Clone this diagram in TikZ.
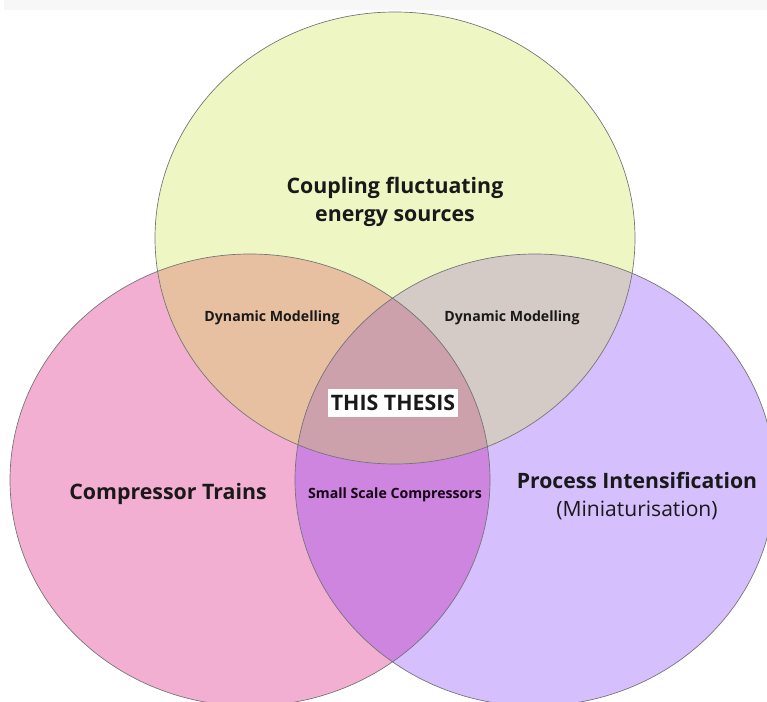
\documentclass[tikz,border=0pt]{standalone}
\usepackage{fontspec}
\setmainfont{Open Sans}
\begin{document}
\begin{tikzpicture}[x=0.75pt,y=-0.75pt,
  label/.style={font=\bfseries, text=black!90, align=center, inner sep=1pt},
  biglabel/.style={label, font=\bfseries\fontsize{16}{21.5}\selectfont},
  smalllabel/.style={label, font=\bfseries\fontsize{10.6}{13}\selectfont},
  rim/.style={draw=black!55, line width=0.5pt}]
\definecolor{cTop}{HTML}{EEF7C4}
\definecolor{cPink}{HTML}{F2AFD1}
\definecolor{cPurple}{HTML}{D5BFFD}
\definecolor{cTopPink}{HTML}{E6C0A1}
\definecolor{cTopPurple}{HTML}{D4CAC6}
\definecolor{cPinkPurple}{HTML}{CD85DF}
\definecolor{cAll}{HTML}{CCA1AC}
\definecolor{cStrip}{HTML}{F7F7F7}
\useasboundingbox (0,0) rectangle (767,702);
\fill[cStrip] (4,0) rectangle (767,10);
\def\ellTop{(395,238) ellipse [x radius=240, y radius=226]}
\def\ellPink{(250,480) ellipse [x radius=240, y radius=226]}
\def\ellPurple{(535,480) ellipse [x radius=240, y radius=226]}
\begin{scope}
  \clip (0,0) rectangle (767,702);
  % single sets
  \fill[cPink] \ellPink;
  \fill[cPurple] \ellPurple;
  \fill[cTop] \ellTop;
  % pairwise overlaps
  \begin{scope}\clip \ellTop; \fill[cTopPink] \ellPink; \end{scope}
  \begin{scope}\clip \ellTop; \fill[cTopPurple] \ellPurple; \end{scope}
  \begin{scope}\clip \ellPink; \fill[cPinkPurple] \ellPurple; \end{scope}
  % common core
  \begin{scope}\clip \ellTop; \clip \ellPink; \fill[cAll] \ellPurple; \end{scope}
  % outlines
  \draw[rim] \ellPink;
  \draw[rim] \ellPurple;
  \draw[rim] \ellTop;
\end{scope}
\node[biglabel] (energy) at (395,202) {Coupling fluctuating\\energy sources};
\node[smalllabel] (dynL) at (272,318) {Dynamic Modelling};
\node[smalllabel] (dynR) at (512,318) {Dynamic Modelling};
\node[biglabel, fill=white, inner xsep=2pt, inner ysep=5pt] (thesis) at (393,403) {THIS THESIS};
\node[smalllabel, text=black!85!violet] (small) at (395,495) {Small Scale Compressors};
\node[label, font=\bfseries\fontsize{16}{20}\selectfont] (trains) at (168,494) {Compressor Trains};
\node[label, font=\bfseries\fontsize{15.9}{20}\selectfont] (pi) at (637,480) {Process Intensification};
\node[label, font=\fontsize{15.8}{18}\selectfont] (mini) at (637,510) {(Miniaturisation)};
\end{tikzpicture}
\end{document}
